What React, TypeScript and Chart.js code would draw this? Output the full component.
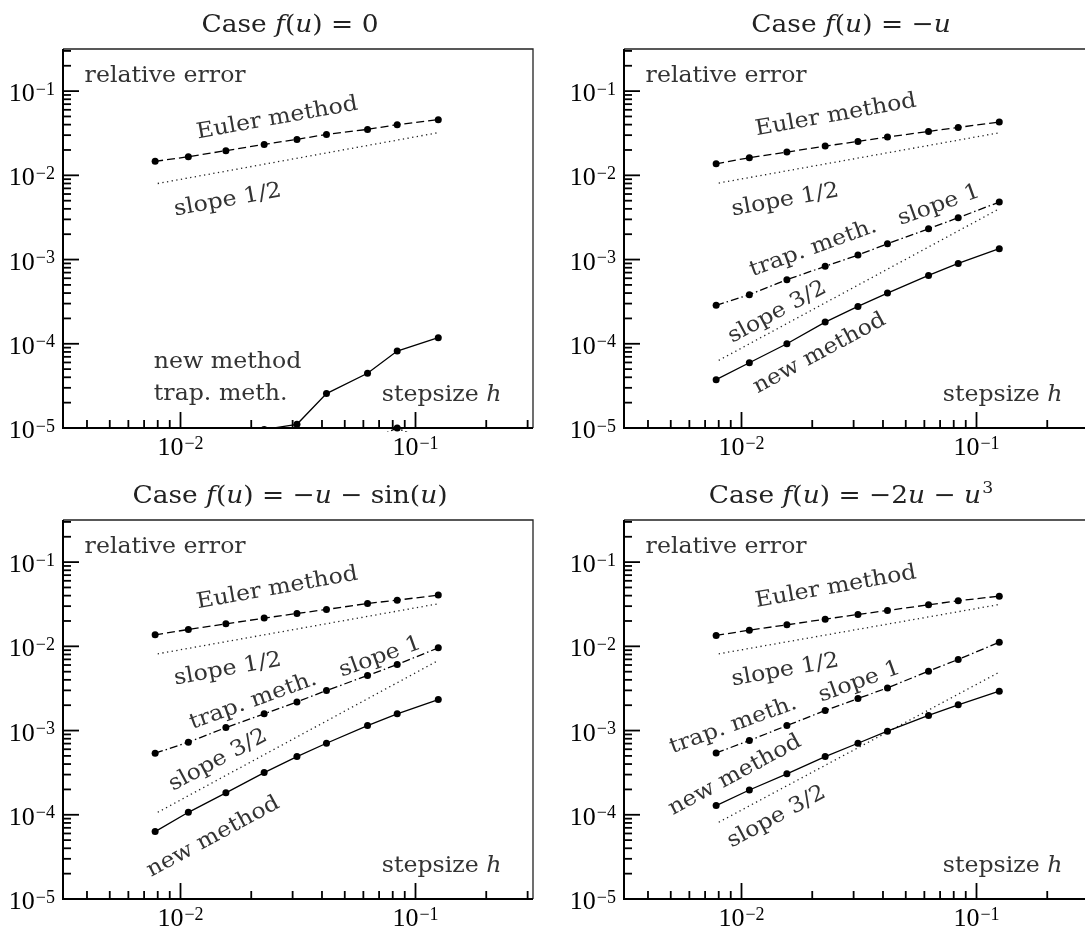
import React, { useEffect, useRef } from "react";
import { Chart, registerables } from "chart.js";

Chart.register(...registerables);

// ---------------- data ----------------
const stepH = [0.0078, 0.0108, 0.0156, 0.0227, 0.0313, 0.0418, 0.0625, 0.0836, 0.125];
const slopeH = [0.008, 0.125];

const case1Euler = [0.01466, 0.01664, 0.01963, 0.0233, 0.02672, 0.03063, 0.0351, 0.0399, 0.04581];
const case1Trap = [1.2e-6, 1.6e-6, 2.2e-6, 3.0e-6, 4.0e-6, 5.5e-6, 7.0e-6, 1.0e-5, 6.0e-6];
const case1New = [3.0e-6, 4.5e-6, 6.5e-6, 9.6e-6, 1.107e-5, 2.56e-5, 4.46e-5, 8.2e-5, 1.18e-4];
const case1Slope12 = [0.008, 0.0321];

const case2Euler = [0.01372, 0.01618, 0.01889, 0.02224, 0.02528, 0.02844, 0.03321, 0.03705, 0.04285];
const case2Trap = [2.86e-4, 3.83e-4, 5.77e-4, 8.3e-4, 1.13e-3, 1.54e-3, 2.32e-3, 3.14e-3, 4.81e-3];
const case2New = [3.75e-5, 5.96e-5, 1.0e-4, 1.81e-4, 2.78e-4, 4.0e-4, 6.48e-4, 9.0e-4, 1.345e-3];
const case2Slope12 = [0.0081, 0.032];
const case2Slope32 = [6.35e-5, 4.01e-3];

const case3Euler = [0.01371, 0.01585, 0.01849, 0.02163, 0.02455, 0.0274, 0.03228, 0.03535, 0.04058];
const case3Trap = [5.38e-4, 7.27e-4, 1.085e-3, 1.578e-3, 2.19e-3, 2.99e-3, 4.5e-3, 6.08e-3, 9.59e-3];
const case3New = [6.31e-5, 1.07e-4, 1.82e-4, 3.17e-4, 4.91e-4, 7.07e-4, 1.146e-3, 1.578e-3, 2.33e-3];
const case3Slope12 = [0.00815, 0.032];
const case3Slope32 = [1.07e-4, 6.79e-3];

const case4Euler = [0.01346, 0.01557, 0.018, 0.02104, 0.02389, 0.02667, 0.03112, 0.03472, 0.03945];
const case4Trap = [5.43e-4, 7.61e-4, 1.146e-3, 1.73e-3, 2.4e-3, 3.21e-3, 5.07e-3, 6.98e-3, 1.12e-2];
const case4New = [1.285e-4, 1.97e-4, 3.06e-4, 4.91e-4, 7.07e-4, 9.82e-4, 1.51e-3, 2.02e-3, 2.93e-3];
const case4Slope12 = [0.00815, 0.0314];
const case4Slope32 = [8.15e-5, 4.93e-3];

const yTickVals = [1e-1, 1e-2, 1e-3, 1e-4, 1e-5];
const yTickSup = ["\u22121", "\u22122", "\u22123", "\u22124", "\u22125"];
const xTickVals = [1e-2, 1e-1];
const xTickSup = ["\u22122", "\u22121"];

type Seg = [string, string?];

const title1: Seg[] = [["Case "], ["f", "i"], ["("], ["u", "i"], [")"], [" = "], ["0"]];
const title2: Seg[] = [["Case "], ["f", "i"], ["("], ["u", "i"], [")"], [" = \u2212"], ["u", "i"]];
const title3: Seg[] = [["Case "], ["f", "i"], ["("], ["u", "i"], [")"], [" = \u2212"], ["u", "i"], [" \u2212 sin("], ["u", "i"], [")"]];
const title4: Seg[] = [["Case "], ["f", "i"], ["("], ["u", "i"], [")"], [" = \u22122"], ["u", "i"], [" \u2212 "], ["u", "i"], ["3", "s"]];

// ---------------- styling / layout ----------------
const X_MIN = Math.pow(10, -2.5);
const X_MAX = Math.pow(10, -0.5);
const Y_MIN = 1e-5;
const Y_MAX = Math.pow(10, -0.5);

const TEXT_FAMILY = '"DejaVu Serif", serif';
const NUM_FAMILY = '"Liberation Serif", serif';

type Font = { size: number; supSize: number; raise: number; supGap: number; family: string; sx: number; color: string };
const titleFont: Font = { size: 24.5, supSize: 16, raise: 10, supGap: 1, family: TEXT_FAMILY, sx: 1.08, color: "#222" };
const noteFont: Font = { size: 21.5, supSize: 15, raise: 9, supGap: 1, family: TEXT_FAMILY, sx: 1.1, color: "#333" };
const tickFont: Font = { size: 26, supSize: 18, raise: 6.5, supGap: 1, family: NUM_FAMILY, sx: 1, color: "#000" };

type Note = {
  segs: Seg[];
  h?: number; v?: number; fx?: number; fy?: number;
  angle?: number; align?: "left" | "center" | "right"; base?: CanvasTextBaseline;
};

const A12 = -10.2, A1 = -19.8, A32 = -28.4;
const relErr: Note = { segs: [["relative error"]], fx: 0.046, fy: 0.088, align: "left", base: "alphabetic" };
const stepNote: Note = { segs: [["stepsize "], ["h", "i"]], fx: 0.933, fy: 0.93, align: "right", base: "alphabetic" };

const notes1: Note[] = [
  relErr,
  { segs: [["Euler method"]], h: 0.0258, v: 0.0474, angle: A12 },
  { segs: [["slope 1/2"]], h: 0.0159, v: 0.00505, angle: A12 },
  { segs: [["new method"]], h: 0.0077, v: 5.12e-5, align: "left", base: "alphabetic" },
  { segs: [["trap. meth."]], h: 0.0077, v: 2.13e-5, align: "left", base: "alphabetic" },
  stepNote,
];
const notes2: Note[] = [
  relErr,
  { segs: [["Euler method"]], h: 0.0252, v: 0.0515, angle: A12 },
  { segs: [["slope 1/2"]], h: 0.01535, v: 0.00505, angle: A12 },
  { segs: [["trap. meth."]], h: 0.0202, v: 1.36e-3, angle: A1 },
  { segs: [["slope 1"]], h: 0.0692, v: 4.4e-3, angle: A1 },
  { segs: [["slope 3/2"]], h: 0.0142, v: 2.36e-4, angle: A32 },
  { segs: [["new method"]], h: 0.0215, v: 7.69e-5, angle: A32 },
  stepNote,
];
const notes3: Note[] = [
  relErr,
  { segs: [["Euler method"]], h: 0.0258, v: 0.0488, angle: A12 },
  { segs: [["slope 1/2"]], h: 0.0159, v: 0.00532, angle: A12 },
  { segs: [["trap. meth."]], h: 0.0204, v: 2.24e-3, angle: A1 },
  { segs: [["slope 1"]], h: 0.0708, v: 7.45e-3, angle: A1 },
  { segs: [["slope 3/2"]], h: 0.01445, v: 4.43e-4, angle: A32 },
  { segs: [["new method"]], h: 0.01378, v: 5.44e-5, angle: A32 },
  stepNote,
];
const notes4: Note[] = [
  relErr,
  { segs: [["Euler method"]], h: 0.0252, v: 0.0505, angle: A12 },
  { segs: [["slope 1/2"]], h: 0.01535, v: 0.00519, angle: A12 },
  { segs: [["trap. meth."]], h: 0.00923, v: 1.153e-3, angle: A1 },
  { segs: [["slope 1"]], h: 0.0318, v: 3.77e-3, angle: A1 },
  { segs: [["new method"]], h: 0.00938, v: 2.94e-4, angle: A32 },
  { segs: [["slope 3/2"]], h: 0.0141, v: 9.4e-5, angle: A32 },
  stepNote,
];

type PanelCfg = {
  title: Seg[]; euler: number[]; trap: number[]; neu: number[]; s12: number[]; s32: number[] | null;
  notes: Note[]; left: number; top: number; w: number; h: number;
  pad: { left: number; top: number; right: number; bottom: number }; trapClip: number;
};

const panels: PanelCfg[] = [
  { title: title1, euler: case1Euler, trap: case1Trap, neu: case1New, s12: case1Slope12, s32: null, notes: notes1,
    left: 0, top: 0, w: 545, h: 465, pad: { left: 63, top: 49, right: 12, bottom: 37 }, trapClip: 4 },
  { title: title2, euler: case2Euler, trap: case2Trap, neu: case2New, s12: case2Slope12, s32: case2Slope32, notes: notes2,
    left: 545, top: 0, w: 560, h: 465, pad: { left: 79, top: 49, right: 11, bottom: 37 }, trapClip: 0 },
  { title: title3, euler: case3Euler, trap: case3Trap, neu: case3New, s12: case3Slope12, s32: case3Slope32, notes: notes3,
    left: 0, top: 465, w: 545, h: 462, pad: { left: 63, top: 55, right: 12, bottom: 28 }, trapClip: 0 },
  { title: title4, euler: case4Euler, trap: case4Trap, neu: case4New, s12: case4Slope12, s32: case4Slope32, notes: notes4,
    left: 545, top: 465, w: 560, h: 462, pad: { left: 79, top: 55, right: 11, bottom: 28 }, trapClip: 0 },
];

// ---------------- text helpers ----------------
function fontOf(st: string | undefined, f: Font) {
  if (st === "i") return `italic ${f.size}px ${f.family}`;
  if (st === "s") return `${f.supSize}px ${f.family}`;
  return `${f.size}px ${f.family}`;
}
function richWidth(ctx: CanvasRenderingContext2D, segs: Seg[], f: Font) {
  let w = 0;
  for (const [t, st] of segs) {
    ctx.font = fontOf(st, f);
    w += ctx.measureText(t).width + (st === "s" ? f.supGap : 0);
  }
  return w;
}
function drawRich(
  ctx: CanvasRenderingContext2D, segs: Seg[], x: number, y: number, f: Font,
  align: "left" | "center" | "right" = "left", angle = 0, baseline: CanvasTextBaseline = "alphabetic"
) {
  ctx.save();
  ctx.translate(x, y);
  ctx.rotate((angle * Math.PI) / 180);
  ctx.scale(f.sx, 1);
  ctx.textBaseline = baseline;
  ctx.textAlign = "left";
  ctx.fillStyle = f.color;
  const w = richWidth(ctx, segs, f);
  let cx = align === "left" ? 0 : align === "center" ? -w / 2 : -w;
  for (const [t, st] of segs) {
    ctx.font = fontOf(st, f);
    if (st === "s") {
      cx += f.supGap;
      ctx.fillText(t, cx, -f.raise);
    } else {
      ctx.fillText(t, cx, 0);
    }
    cx += ctx.measureText(t).width;
  }
  ctx.restore();
}

function makeDecor(p: PanelCfg) {
  return {
    id: "decor",
    afterDraw(chart: any) {
      const ctx: CanvasRenderingContext2D = chart.ctx;
      const a = chart.chartArea;
      const xs = chart.scales.x;
      const ys = chart.scales.y;
      ctx.save();
      // ticks (inward)
      ctx.strokeStyle = "#000";
      ctx.lineWidth = 1.8;
      for (let e = -6; e <= 0; e++) {
        for (let m = 1; m <= 9; m++) {
          const v = m * Math.pow(10, e);
          const len = m === 1 ? 16 : 8;
          if (v >= Y_MIN * 0.999 && v <= Y_MAX) {
            const py = ys.getPixelForValue(v);
            ctx.beginPath();
            ctx.moveTo(a.left, py);
            ctx.lineTo(a.left + len, py);
            ctx.stroke();
          }
          if (v >= X_MIN && v <= X_MAX) {
            const px = xs.getPixelForValue(v);
            ctx.beginPath();
            ctx.moveTo(px, a.bottom);
            ctx.lineTo(px, a.bottom - len);
            ctx.stroke();
          }
        }
      }
      // frame
      ctx.lineWidth = 1.3;
      ctx.strokeStyle = "#222";
      ctx.beginPath();
      ctx.moveTo(a.left, a.top);
      ctx.lineTo(a.right, a.top);
      ctx.lineTo(a.right, a.bottom);
      ctx.stroke();
      ctx.lineWidth = 2;
      ctx.strokeStyle = "#000";
      ctx.beginPath();
      ctx.moveTo(a.left, a.top);
      ctx.lineTo(a.left, a.bottom);
      ctx.lineTo(a.right, a.bottom);
      ctx.stroke();
      // tick labels
      yTickVals.forEach((v, i) => {
        const py = ys.getPixelForValue(v);
        drawRich(ctx, [["10"], [yTickSup[i], "s"]], a.left - 8, py + 10, tickFont, "right");
      });
      xTickVals.forEach((v, i) => {
        const px = xs.getPixelForValue(v);
        drawRich(ctx, [["10"], [xTickSup[i], "s"]], px, a.bottom + 27, tickFont, "center");
      });
      // title
      drawRich(ctx, p.title, (a.left + a.right) / 2 - 8, a.top - 17, titleFont, "center");
      // notes
      for (const n of p.notes) {
        let x: number, y: number;
        if (n.fx !== undefined && n.fy !== undefined) {
          x = a.left + n.fx * (a.right - a.left);
          y = a.top + n.fy * (a.bottom - a.top);
        } else {
          x = xs.getPixelForValue(n.h);
          y = ys.getPixelForValue(n.v);
        }
        drawRich(ctx, n.segs, x, y, noteFont, n.align || "center", n.angle || 0, n.base || "middle");
      }
      ctx.restore();
    },
  };
}

function pts(xs: number[], ys: number[]) {
  return xs.map((x, i) => ({ x, y: ys[i] }));
}

function Panel({ p }: { p: PanelCfg }) {
  const ref = useRef<HTMLCanvasElement>(null);
  useEffect(() => {
    const markers = { pointRadius: 3.5, pointBackgroundColor: "#000", pointBorderWidth: 0, pointStyle: "circle" };
    const datasets: any[] = [
      { label: "Euler method", data: pts(stepH, p.euler), borderColor: "#000", borderWidth: 1.3, borderDash: [8, 4], ...markers },
      { label: "trap. meth.", data: pts(stepH, p.trap), borderColor: "#000", borderWidth: 1.3, borderDash: [8, 3, 1.5, 3], ...markers,
        clip: { left: 0, top: 0, right: 0, bottom: p.trapClip } },
      { label: "new method", data: pts(stepH, p.neu), borderColor: "#000", borderWidth: 1.3, ...markers },
      { label: "slope 1/2", data: pts(slopeH, p.s12), borderColor: "#222", borderWidth: 1.3, borderDash: [1.3, 3.4], pointRadius: 0 },
    ];
    if (p.s32) {
      datasets.push({ label: "slope 3/2", data: pts(slopeH, p.s32), borderColor: "#222", borderWidth: 1.3, borderDash: [1.3, 3.4], pointRadius: 0 });
    }
    const chart = new Chart(ref.current as HTMLCanvasElement, {
      type: "line",
      data: { datasets },
      options: {
        responsive: false,
        animation: false,
        events: [],
        layout: { padding: p.pad },
        elements: { line: { tension: 0 } },
        plugins: { legend: { display: false }, tooltip: { enabled: false }, title: { display: false } },
        scales: {
          x: { type: "logarithmic", min: X_MIN, max: X_MAX, display: false },
          y: { type: "logarithmic", min: Y_MIN, max: Y_MAX, display: false },
        },
      } as any,
      plugins: [makeDecor(p) as any],
    });
    return () => chart.destroy();
  }, [p]);
  return (
    <div style={{ position: "absolute", left: p.left, top: p.top, width: p.w, height: p.h }}>
      <canvas ref={ref} width={p.w} height={p.h} style={{ display: "block", width: p.w, height: p.h }} />
    </div>
  );
}

export default function App() {
  return (
    <div style={{ position: "absolute", left: 0, top: 0, width: 1085, height: 927, overflow: "hidden", background: "#fff" }}>
      {panels.map((p, i) => (
        <Panel key={i} p={p} />
      ))}
    </div>
  );
}
